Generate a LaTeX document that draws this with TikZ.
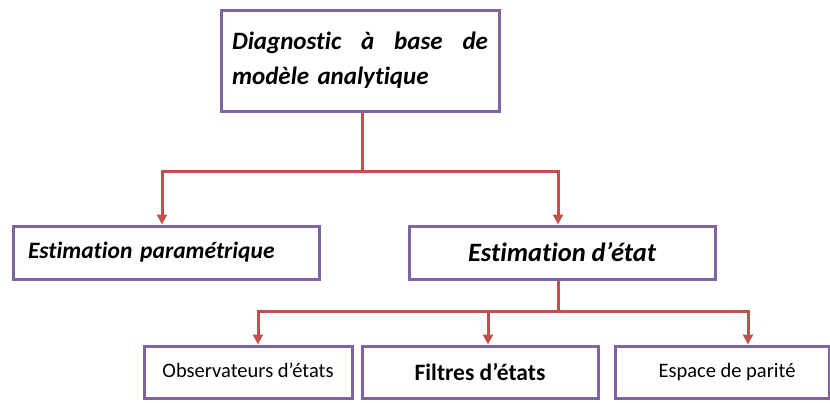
\documentclass[tikz,border=0pt]{standalone}
\usepackage{fontspec}
\setmainfont{Carlito}[Ligatures=NoCommon]
\usetikzlibrary{arrows.meta}

\definecolor{boxpurple}{RGB}{128,100,162}
\definecolor{linkred}{RGB}{192,80,77}

\begin{document}
\begin{tikzpicture}
      [x=1pt,y=-1pt
      ,box/.style={rectangle,draw=boxpurple,line width=3pt,inner sep=0,fill=white}
      ,lin/.style={draw=linkred,line width=3pt}
      ,arr/.style={lin,-{Triangle[length=10pt,width=10pt]}}]
        \useasboundingbox (0,0) rectangle (830,402);
        % top level
        \node[box,minimum width=278,minimum height=101,text width=256,align=left,
              font=\bfseries\itshape\fontsize{25}{35}\selectfont] (top) at (360,60.5)
              {\hbox to 256pt{Diagnostic\hfill à\hfill base\hfill de}\\modèle analytique};
        % second level
        \node[box,minimum width=306,minimum height=53,text width=276,align=left,
              font=\bfseries\itshape\fontsize{23.5}{26}\selectfont] (param) at (166,252.5)
              {Estimation paramétrique};
        \node[box,minimum width=306,minimum height=53,
              font=\bfseries\itshape\fontsize{26.5}{28}\selectfont] (etat) at (562,252.5)
              {Estimation d’état};
        % third level
        \node[box,minimum width=208,minimum height=52,
              font=\fontsize{20.5}{22}\selectfont] (obs) at (248,372)
              {\raisebox{3pt}{Observateurs d’états}};
        \node[box,minimum width=236,minimum height=52,
              font=\bfseries\fontsize{23.5}{25}\selectfont] (filt) at (480,372)
              {Filtres d’états};
        \node[box,minimum width=214,minimum height=52,
              font=\fontsize{20.5}{22}\selectfont] (esp) at (722,372)
              {\hspace*{10pt}\raisebox{3pt}{Espace de parité}};
        % links
        \draw[lin] ([xshift=2pt]top.south) -- ++(0,59) coordinate (j1);
        \draw[arr] (j1) -| ([xshift=-4pt]param.north);
        \draw[arr] (j1) -| ([xshift=-4pt]etat.north);
        \draw[lin] ([xshift=-4pt]etat.south) -- ++(0,31) coordinate (j2);
        \draw[arr] (j2) -| ([xshift=10pt]obs.north);
        \draw[arr] (j2) -| ([xshift=8pt]filt.north);
        \draw[arr] (j2) -| ([xshift=26pt]esp.north);
\end{tikzpicture}
\end{document}
